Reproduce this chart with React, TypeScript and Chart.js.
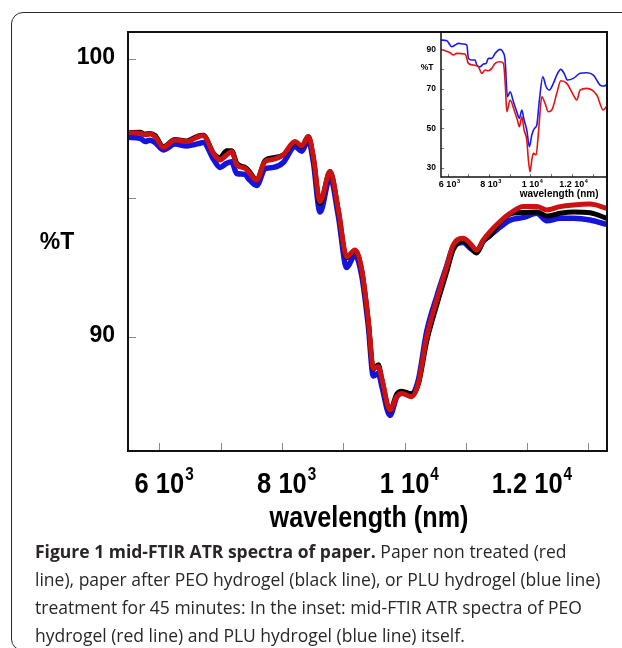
import React, { useEffect, useRef } from "react";
import { Chart, registerables } from "chart.js";

Chart.register(...registerables);

// ---- Main spectra (paper): wavelength in nm, transmittance in %T ----
const wavelengthNm = [
  5494, 5685, 5767, 5848, 5930, 6065, 6256, 6447, 6529, 6664,
  6718, 6881, 6990, 7099, 7181, 7263, 7398, 7452, 7589, 7724,
  7860, 8023, 8214, 8323, 8431, 8512, 8622, 8785, 8920, 9057,
  9192, 9302, 9409, 9491, 9573, 9628, 9763, 9873, 9954, 10117,
  10225, 10362, 10525, 10688, 10796, 10959, 11068, 11178, 11285, 11395,
  11558, 11721, 11938, 12157, 12320, 12536, 12754, 13026, 13298,
];
// paper non treated (red)
const untreatedT = [
  97.35, 97.33, 97.27, 97.3, 97.21, 96.82, 97.09, 97.03, 97.09, 97.23,
  97.24, 96.61, 96.37, 96.55, 96.67, 96.19, 96.07, 95.95, 95.65, 96.31,
  96.39, 96.55, 97.03, 96.87, 97.21, 96.49, 94.87, 95.95, 94.57, 92.89,
  93.13, 92.41, 90.61, 88.87, 88.93, 88.51, 87.37, 87.85, 87.97, 87.85,
  88.33, 90.01, 91.33, 92.53, 93.31, 93.55, 93.37, 93.13, 93.49, 93.79,
  94.15, 94.45, 94.69, 94.69, 94.57, 94.69, 94.75, 94.78, 94.63,
];
// paper after PEO hydrogel (black)
const peoTreatedT = [
  97.35, 97.36, 97.3, 97.32, 97.25, 96.85, 97.1, 97.05, 97.12, 97.25,
  97.26, 96.62, 96.45, 96.7, 96.7, 96.25, 96.1, 96.0, 95.65, 96.35,
  96.45, 96.55, 97.0, 96.85, 97.21, 96.45, 94.8, 95.95, 94.55, 92.85,
  93.1, 92.4, 90.55, 88.85, 89.0, 88.5, 87.35, 87.95, 88.05, 87.95,
  88.3, 89.85, 91.15, 92.35, 93.15, 93.45, 93.25, 93.02, 93.45, 93.65,
  94.12, 94.42, 94.48, 94.5, 94.35, 94.45, 94.5, 94.47, 94.27,
];
// paper after PLU hydrogel (blue)
const pluTreatedT = [
  97.18, 97.15, 97.03, 97.08, 97.0, 96.73, 96.94, 96.87, 96.9, 96.97,
  97.0, 96.4, 96.1, 96.25, 96.3, 95.88, 95.85, 95.7, 95.45, 96.05,
  96.1, 96.28, 96.85, 96.68, 97.09, 96.3, 94.5, 95.75, 94.35, 92.5,
  92.95, 92.2, 90.4, 88.6, 88.7, 88.25, 87.18, 87.85, 87.98, 87.95,
  88.45, 90.2, 91.45, 92.55, 93.25, 93.4, 93.2, 93.07, 93.45, 93.65,
  93.95, 94.2, 94.3, 94.45, 94.18, 94.27, 94.27, 94.21, 94.05,
];

// ---- Inset spectra (hydrogels alone) ----
const insetPeoNm = [
  5680, 5879, 6121, 6280, 6444, 6845, 7005, 7246, 7488, 7652,
  7811, 7971, 8135, 8294, 8536, 8695, 8792, 8860, 9019, 9212,
  9372, 9468, 9584, 9695, 9825, 9903, 9985, 10067, 10144, 10275,
  10386, 10550, 10709, 10869, 11033, 11274, 11468, 11757, 12076, 12240,
  12400, 12723, 13206, 13525, 13689,
];
const insetPeoT = [
  90.0, 89.29, 88.28, 87.11, 87.97, 87.62, 82.9, 82.04, 81.18, 77.84,
  79.51, 79.15, 80.37, 82.9, 83.72, 82.9, 71.04, 58.37, 64.3, 59.24,
  54.17, 50.77, 55.84, 49.1, 44.03, 33.89, 27.96, 33.89, 37.29, 36.43,
  47.43, 65.98, 62.63, 58.37, 59.24, 67.7, 74.09, 72.77, 66.84, 64.3,
  69.37, 70.23, 66.84, 59.24, 61.27,
];
const insetPluNm = [
  5680, 5961, 6203, 6362, 6522, 6763, 6927, 7005, 7169, 7328,
  7410, 7570, 7729, 7860, 7971, 8135, 8294, 8536, 8666, 8777,
  8888, 9019, 9178, 9342, 9468, 9584, 9695, 9825, 9951, 10067,
  10193, 10308, 10434, 10598, 10758, 10917, 11110, 11274, 11468, 11627,
  11786, 12076, 12400, 12723, 13042, 13366, 13559, 13689,
];
const insetPluT = [
  94.71, 94.36, 91.32, 92.18, 93.04, 92.69, 92.18, 85.44, 84.58, 84.58,
  82.04, 81.18, 82.55, 82.9, 85.44, 85.44, 87.97, 90.0, 88.78, 84.58,
  65.98, 68.51, 63.44, 58.37, 55.03, 59.24, 54.17, 49.1, 40.63, 46.56,
  49.96, 51.63, 64.3, 76.11, 71.04, 69.37, 72.77, 76.97, 79.86, 77.84,
  74.44, 75.3, 77.84, 78.14, 76.97, 71.91, 71.4, 72.26,
];

// ---- Axis ticks and labels ----
const xTickValues = [6000, 7000, 8000, 9000, 10000, 11000, 12000, 13000];
const xLabelValues = [6000, 8000, 10000, 12000];
const xLabelMantissa = ["6", "8", "1", "1.2"];
const xLabelExponent = ["3", "3", "4", "4"];
const mainYTickValues = [90, 95, 100];
const mainYLabelValues = [90, 100];
const insetYTickValues = [30, 40, 50, 60, 70, 80, 90];
const insetYLabelValues = [30, 50, 70, 90];

const FONT = '"Liberation Sans", Arial, Helvetica, sans-serif';

type FrameSpec = {
  frameWidth: number;
  frameColor: string;
  tickLength: number;
  tickColor: string;
  yTicks: number[];
  yLabels: number[];
  yLabelFont: string;
  yLabelGap: number;
  yLabelShift: number;
  yTitle: string;
  yTitleFont: string;
  yTitleDx: number;
  yTitleValue: number;
  xLabelSize: number;
  xExpSize: number;
  xCondense: number;
  xLabelDrop: number;
  xExpRise: number;
  xExpGap: number;
  xTitle: string;
  xTitleSize: number;
  xTitleCondense: number;
  xTitleDrop: number;
  xTitleValue: number;
};

function drawCondensed(ctx: CanvasRenderingContext2D, text: string, x: number, y: number, sx: number) {
  ctx.save();
  ctx.translate(x, y);
  ctx.scale(sx, 1);
  ctx.fillText(text, 0, 0);
  ctx.restore();
}

function framePlugin(spec: FrameSpec) {
  return {
    id: "frameAndLabels",
    afterDatasetsDraw(chart: any) {
      const ctx: CanvasRenderingContext2D = chart.ctx;
      const a = chart.chartArea;
      const xs = chart.scales.x;
      const ys = chart.scales.y;
      ctx.save();

      // inward tick marks
      ctx.lineWidth = 1;
      ctx.strokeStyle = spec.tickColor;
      ctx.beginPath();
      spec.yTicks.forEach((v) => {
        const p = Math.round(ys.getPixelForValue(v)) + 0.5;
        ctx.moveTo(a.left, p);
        ctx.lineTo(a.left + spec.tickLength, p);
      });
      xTickValues.forEach((v) => {
        const p = Math.round(xs.getPixelForValue(v)) + 0.5;
        ctx.moveTo(p, a.bottom);
        ctx.lineTo(p, a.bottom - spec.tickLength);
      });
      ctx.stroke();

      // plot frame
      ctx.lineWidth = spec.frameWidth;
      ctx.strokeStyle = spec.frameColor;
      ctx.strokeRect(a.left, a.top, a.right - a.left, a.bottom - a.top);

      ctx.fillStyle = "#000";
      // y tick labels
      ctx.font = spec.yLabelFont;
      ctx.textAlign = "right";
      ctx.textBaseline = "middle";
      spec.yLabels.forEach((v) => {
        ctx.fillText(String(v), a.left - spec.yLabelGap, ys.getPixelForValue(v) + spec.yLabelShift);
      });
      // y title
      ctx.textAlign = "center";
      ctx.font = spec.yTitleFont;
      ctx.fillText(spec.yTitle, a.left + spec.yTitleDx, ys.getPixelForValue(spec.yTitleValue));

      // x tick labels written as "m 10^e"
      ctx.textAlign = "left";
      ctx.textBaseline = "alphabetic";
      const baseY = a.bottom + spec.xLabelDrop;
      xLabelValues.forEach((v, i) => {
        const px = xs.getPixelForValue(v);
        const text = `${xLabelMantissa[i]} 10`;
        ctx.font = `bold ${spec.xLabelSize}px ${FONT}`;
        const w = ctx.measureText(text).width * spec.xCondense;
        drawCondensed(ctx, text, px - w / 2, baseY, spec.xCondense);
        ctx.font = `bold ${spec.xExpSize}px ${FONT}`;
        drawCondensed(ctx, xLabelExponent[i], px + w / 2 + spec.xExpGap, baseY - spec.xExpRise, spec.xCondense);
      });

      // x title
      ctx.font = `bold ${spec.xTitleSize}px ${FONT}`;
      const tw = ctx.measureText(spec.xTitle).width * spec.xTitleCondense;
      drawCondensed(
        ctx,
        spec.xTitle,
        xs.getPixelForValue(spec.xTitleValue) - tw / 2,
        a.bottom + spec.xTitleDrop,
        spec.xTitleCondense
      );
      ctx.restore();
    },
  };
}

const pairs = (xs: number[], ys: number[]) => xs.map((x, i) => ({ x, y: ys[i] }));

function lineSet(xs: number[], ys: number[], color: string, width: number) {
  return {
    data: pairs(xs, ys),
    borderColor: color,
    borderWidth: width,
    pointRadius: 0,
    fill: false,
    cubicInterpolationMode: "monotone" as const,
    borderJoinStyle: "round" as const,
    borderCapStyle: "round" as const,
  };
}

export default function App() {
  const mainRef = useRef<HTMLCanvasElement | null>(null);
  const insetRef = useRef<HTMLCanvasElement | null>(null);

  useEffect(() => {
    const main = new Chart(mainRef.current as HTMLCanvasElement, {
      type: "line",
      data: {
        datasets: [
          lineSet(wavelengthNm, untreatedT, "#cc1111", 5),
          lineSet(wavelengthNm, peoTreatedT, "#000000", 5),
          lineSet(wavelengthNm, pluTreatedT, "#1414dc", 5.5),
        ],
      },
      options: {
        animation: false,
        responsive: false,
        maintainAspectRatio: false,
        events: [],
        layout: { padding: { left: 128, top: 32, right: 15, bottom: 94 } },
        scales: {
          x: { type: "linear", min: 5489, max: 13303, display: false },
          y: { type: "linear", min: 85.9, max: 100.97, display: false },
        },
        plugins: { legend: { display: false }, tooltip: { enabled: false } },
      },
      plugins: [
        framePlugin({
          frameWidth: 2,
          frameColor: "#111",
          tickLength: 8,
          tickColor: "#8a8a8a",
          yTicks: mainYTickValues,
          yLabels: mainYLabelValues,
          yLabelFont: `bold 23px ${FONT}`,
          yLabelGap: 13,
          yLabelShift: -1,
          yTitle: "%T",
          yTitleFont: `bold 23px ${FONT}`,
          yTitleDx: -71,
          yTitleValue: 93.38,
          xLabelSize: 30,
          xExpSize: 18,
          xCondense: 0.85,
          xLabelDrop: 42,
          xExpRise: 13,
          xExpGap: 1,
          xTitle: "wavelength (nm)",
          xTitleSize: 30,
          xTitleCondense: 0.84,
          xTitleDrop: 76,
          xTitleValue: 9421,
        }),
      ],
    });

    const inset = new Chart(insetRef.current as HTMLCanvasElement, {
      type: "line",
      data: {
        datasets: [
          lineSet(insetPeoNm, insetPeoT, "#e01414", 1.6),
          lineSet(insetPluNm, insetPluT, "#1a1af0", 1.6),
        ],
      },
      options: {
        animation: false,
        responsive: false,
        maintainAspectRatio: false,
        events: [],
        layout: { padding: { left: 46, top: 12, right: 15, bottom: 28 } },
        scales: {
          x: { type: "linear", min: 5680, max: 13700, display: false },
          y: { type: "linear", min: 25.3, max: 98.8, display: false },
        },
        plugins: { legend: { display: false }, tooltip: { enabled: false } },
      },
      plugins: [
        framePlugin({
          frameWidth: 1.5,
          frameColor: "#111",
          tickLength: 3,
          tickColor: "#777",
          yTicks: insetYTickValues,
          yLabels: insetYLabelValues,
          yLabelFont: `bold 8.5px ${FONT}`,
          yLabelGap: 5,
          yLabelShift: 0,
          yTitle: "%T",
          yTitleFont: `bold 8.5px ${FONT}`,
          yTitleDx: -14,
          yTitleValue: 80.8,
          xLabelSize: 9,
          xExpSize: 5.5,
          xCondense: 1,
          xLabelDrop: 10,
          xExpRise: 4,
          xExpGap: 0.5,
          xTitle: "wavelength (nm)",
          xTitleSize: 10,
          xTitleCondense: 1,
          xTitleDrop: 20,
          xTitleValue: 11385,
        }),
      ],
    });

    return () => {
      main.destroy();
      inset.destroy();
    };
  }, []);

  return (
    <div
      style={{
        position: "fixed",
        left: 0,
        top: 0,
        width: 622,
        height: 648,
        background: "#fff",
        overflow: "hidden",
      }}
    >
      <div
        style={{
          position: "absolute",
          left: 11,
          top: 12,
          width: 680,
          height: 639,
          border: "1.5px solid #2a2a2a",
          borderRadius: 12,
          boxSizing: "border-box",
        }}
      />
      <canvas
        ref={mainRef}
        width={622}
        height={545}
        style={{ position: "absolute", left: 0, top: 0, width: 622, height: 545 }}
      />
      <canvas
        ref={insetRef}
        width={227}
        height={185}
        style={{ position: "absolute", left: 395, top: 20, width: 227, height: 185 }}
      />
      <div
        style={{
          position: "absolute",
          left: 35,
          top: 537,
          fontFamily: '"Open Sans", "Noto Sans", sans-serif',
          fontSize: 17.5,
          lineHeight: "28px",
          color: "#2a2627",
          whiteSpace: "nowrap",
        }}
      >
        <div>
          <b>Figure 1 mid-FTIR ATR spectra of paper.</b> Paper non treated (red
        </div>
        <div>line), paper after PEO hydrogel (black line), or PLU hydrogel (blue line)</div>
        <div>treatment for 45 minutes: In the inset: mid-FTIR ATR spectra of PEO</div>
        <div>hydrogel (red line) and PLU hydrogel (blue line) itself.</div>
      </div>
    </div>
  );
}
